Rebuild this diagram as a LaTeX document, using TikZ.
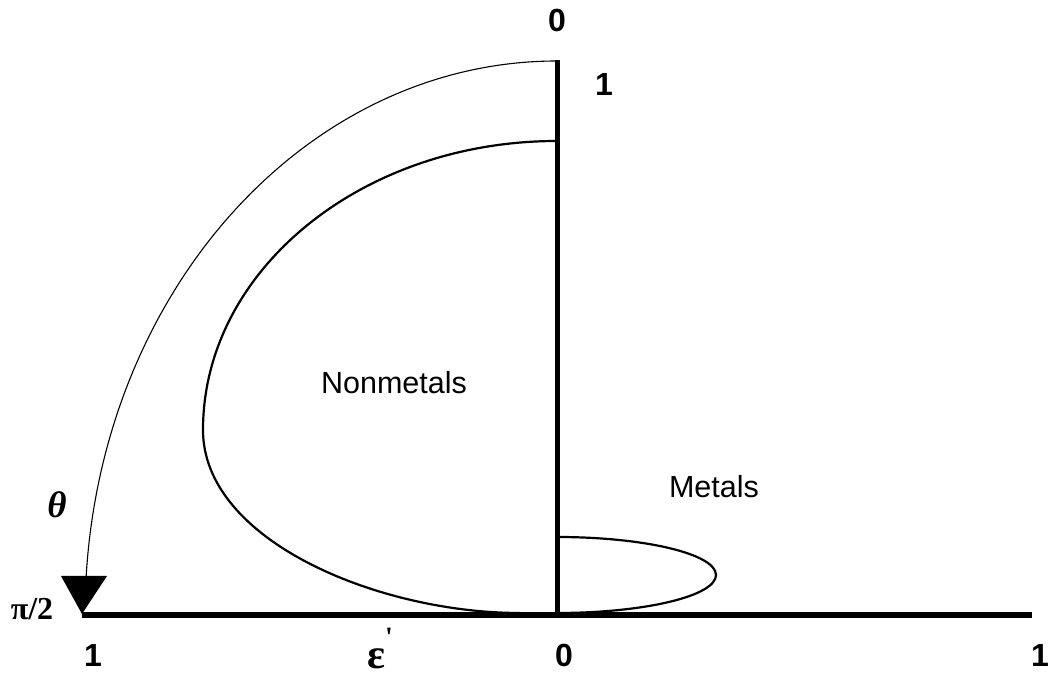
\documentclass[tikz,border=0pt]{standalone}
\usepackage{fontspec}
\setmainfont{Liberation Sans}
\newfontfamily\serifrm{Liberation Serif}
\begin{document}
\begin{tikzpicture}[x=1pt,y=1pt,
  lbl/.style={inner sep=0pt, font=\fontsize{32}{32}\selectfont\bfseries},
  region/.style={inner sep=0pt, font=\fontsize{30.5}{30.5}\selectfont},
  curve/.style={line width=2.2pt},
  thin/.style={line width=1.1pt}]
\useasboundingbox (0,0) rectangle (1050,677);
% axes
\coordinate (O) at (557.5,62);
\coordinate (L) at (82,62);
\coordinate (R) at (1032,62);
\coordinate (T) at (557.5,617);
\draw[line width=6pt] (L) -- (R);
\draw[line width=4.6pt] (O) -- (T);
% outer arc theta
\draw[thin] (557,616) arc[start angle=90, end angle=176, x radius=472, y radius=554];
\fill (61,101) -- (107,101) -- (82,63) -- cycle;
% nonmetals curve
\draw[curve] (557,536) arc[start angle=90, end angle=180, x radius=354, y radius=289]
  .. controls (203,136) and (379,64) .. (520,64);
% metals loop
\draw[curve] (557,140) arc[start angle=90, end angle=-90, x radius=159, y radius=38];
% labels
\node[lbl] (top0) at (557,657) {0};
\node[lbl] (top1) at (604,592) {1};
\node[lbl] (bl1) at (93,22) {1};
\node[lbl] (b0) at (564,22) {0};
\node[lbl] (br1) at (1040,22) {1};
\node[inner sep=0pt, anchor=base, font=\serifrm\fontsize{42}{42}\selectfont\bfseries] (eps) at (380,8) {ε\raisebox{22pt}{\fontsize{28}{28}\selectfont\bfseries '}};
\node[inner sep=0pt, font=\serifrm\fontsize{32}{32}\selectfont\bfseries] (pi2) at (32,68) {π/2};
\node[inner sep=0pt, font=\serifrm\fontsize{37}{37}\selectfont\bfseries\itshape] (theta) at (57,172) {θ};
\node[region] (nm) at (394,294) {Nonmetals};
\node[region] (m) at (714,190) {Metals};
\end{tikzpicture}
\end{document}
